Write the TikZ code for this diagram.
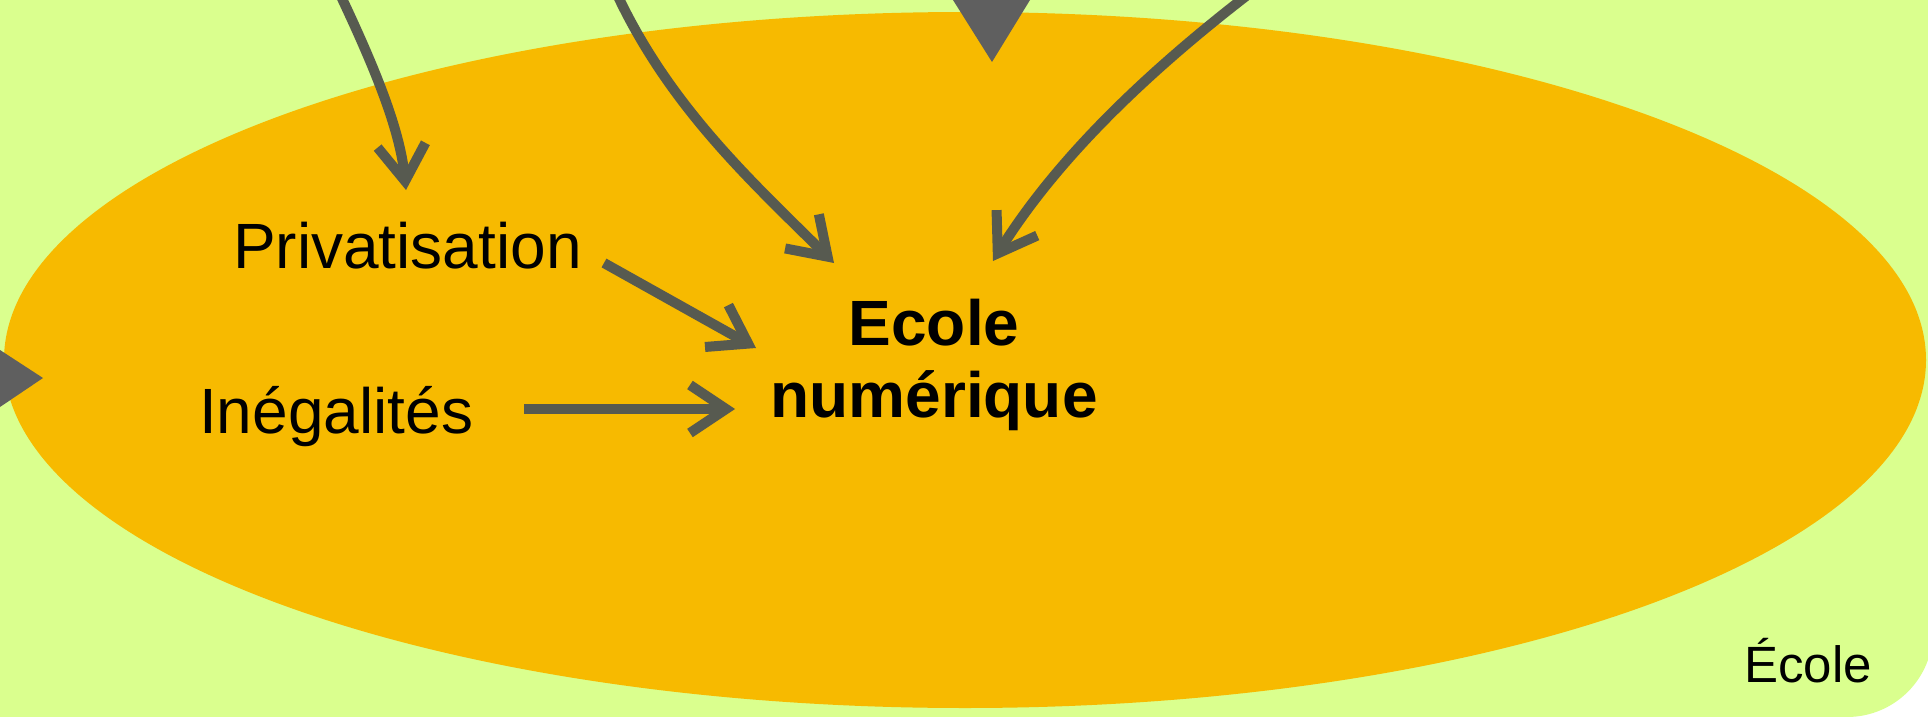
\documentclass[tikz,border=0pt]{standalone}
\usepackage{fontspec}
\setmainfont{Liberation Sans}
\usetikzlibrary{arrows.meta,calc}
\definecolor{bggreen}{HTML}{DAFF8E}
\definecolor{ellorange}{HTML}{F7BA00}
\definecolor{arrgray}{HTML}{575A50}
\definecolor{trigray}{HTML}{5F5F5F}
\begin{document}
\begin{tikzpicture}[x=1pt,y=-1pt,
  lbl/.style={inner sep=0pt, font=\fontsize{64pt}{72pt}\selectfont},
  conn/.style={draw=arrgray, line width=10pt, line join=round, -{Straight Barb[length=36pt,width=48pt]}},
  tri/.style={fill=trigray}]
\useasboundingbox (0,0) rectangle (1928,717);
\fill[bggreen, rounded corners=86pt] (-200,-200) rectangle (1933,717);
\fill[ellorange] (965,360) ellipse [x radius=961, y radius=348];
\node[lbl, anchor=base west] (priv) at (233,268) {Privatisation};
\node[lbl, anchor=base west] (ineg) at (199,433) {Inégalités};
\node[lbl, font=\bfseries\fontsize{64pt}{72pt}\selectfont, align=center] (ecole) at (934,365) {Ecole\\numérique};
\node[inner sep=0pt, font=\fontsize{51pt}{60pt}\selectfont, anchor=base west] (school) at (1744,682) {École};
\coordinate (src1) at (338,-10);
\coordinate (src2) at (615,-10);
\coordinate (src3) at (1254,-10);
\draw[conn] (src1) .. controls (376,70) and (400,130) .. ($(priv.base west)+(173,-78)$);
\draw[conn] (src2) .. controls (668,105) and (750,180) .. ($(ecole)+(-100,-102)$);
\draw[conn] (src3) .. controls (1130,85) and (1050,170) .. ($(ecole)+(59,-104)$);
\draw[conn] ($(priv.base east)+(22,-5)$) -- ($(ecole)+(-178,-17)$);
\draw[conn] ($(ineg.base east)+(51,-24)$) -- ($(ecole)+(-199,44)$);
\fill[tri] (953,0) -- (1030,0) -- (992,62) -- cycle;
\fill[tri] (0,350) -- (43,378) -- (0,407) -- cycle;
\end{tikzpicture}
\end{document}
